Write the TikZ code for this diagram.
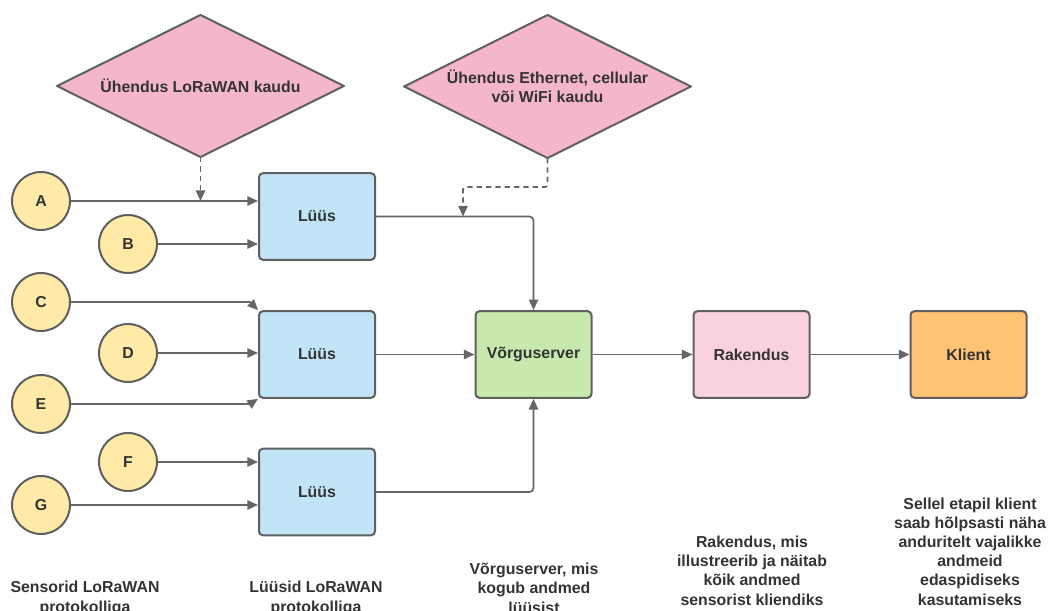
\documentclass[tikz,border=0pt]{standalone}
\usepackage{fontspec}
\setmainfont{Liberation Sans}
\usetikzlibrary{shapes.geometric,arrows.meta,calc}
\definecolor{strokec}{HTML}{5F5F5F}
\definecolor{linec}{HTML}{666666}
\definecolor{txtc}{HTML}{333333}
\definecolor{sensorc}{HTML}{FFEAA7}
\definecolor{gatec}{HTML}{C1E4F7}
\definecolor{netc}{HTML}{C7E9AD}
\definecolor{appc}{HTML}{FAD2DF}
\definecolor{clientc}{HTML}{FFC374}
\definecolor{diac}{HTML}{F4B6C9}
\newcommand{\lblfont}{\bfseries\fontsize{11.9}{14.4}\selectfont}
\begin{document}
\begin{tikzpicture}[x=0.75pt,y=-0.75pt,
  sensor/.style={circle, draw=strokec, line width=1.5pt, fill=sensorc, minimum size=43.5pt, inner sep=0pt, font=\lblfont, text=txtc},
  box/.style={rectangle, rounded corners=3pt, draw=strokec, line width=1.5pt, minimum width=87pt, minimum height=65pt, inner sep=0pt, font=\lblfont, text=txtc},
  diashape/.style={draw=strokec, line width=1.5pt, fill=diac, line join=round},
  diatext/.style={font=\lblfont, text=txtc, align=center, inner sep=0pt},
  note/.style={align=center, font=\lblfont, text=txtc, inner sep=0pt},
  arr/.style={draw=linec, line width=1.3pt, -{Triangle[length=8pt,width=7pt]}},
  darr/.style={arr, dash pattern=on 4pt off 3pt}]
\useasboundingbox (0,0) rectangle (1048,610);

% diamonds
\coordinate (d1c) at (200.5,86);
\coordinate (d1s) at (200.5,157);
\path[diashape] (57,86) -- (200.5,15) -- (344,86) -- (d1s) -- cycle;
\node[diatext] (d1) at (d1c) {Ühendus LoRaWAN kaudu};
\coordinate (d2c) at (547.5,86.5);
\coordinate (d2s) at (547.5,158);
\path[diashape] (404,86.5) -- (547.5,15) -- (691,86.5) -- (d2s) -- cycle;
\node[diatext] (d2) at (d2c) {Ühendus Ethernet, cellular\\või WiFi kaudu};

\node[sensor] (A) at (41,201) {A};
\node[sensor] (B) at (128,244) {B};
\node[sensor] (C) at (41,302) {C};
\node[sensor] (D) at (128,353) {D};
\node[sensor] (E) at (41,404) {E};
\node[sensor] (F) at (128,462) {F};
\node[sensor] (G) at (41,505) {G};

\node[box, fill=gatec] (g1) at (317,216.5) {Lüüs};
\node[box, fill=gatec] (g2) at (317,354.5) {Lüüs};
\node[box, fill=gatec] (g3) at (317,492) {Lüüs};
\node[box, fill=netc] (vs) at (533.5,354.5) {Võrguserver};
\node[box, fill=appc] (rak) at (751.5,354.5) {Rakendus};
\node[box, fill=clientc] (kl) at (968.5,354.5) {Klient};

\draw[arr] (A.east) -- (A.east -| g1.west);
\draw[arr] (B.east) -- (B.east -| g1.west);
\coordinate (cb) at (250,302);
\draw[arr] (C.east) -- (cb) -- (g2.north west);
\draw[arr] (D.east) -- (D.east -| g2.west);
\coordinate (eb) at (250,404);
\draw[arr] (E.east) -- (eb) -- (g2.south west);
\draw[arr] (F.east) -- (F.east -| g3.west);
\draw[arr] (G.east) -- (G.east -| g3.west);

\draw[arr, rounded corners=3pt] (g1.east) -| (vs.north);
\draw[arr] (g2) -- (vs);
\draw[arr, rounded corners=3pt] (g3.east) -| (vs.south);
\draw[arr] (vs) -- (rak);
\draw[arr] (rak) -- (kl);

\draw[darr] (d1s) -- (d1s |- A.east);
\coordinate (j0) at (547.5,187);
\path (g1.east) ++(87,0) coordinate (j1);
\draw[darr, rounded corners=2pt] (d2s) -- (j0) -| (j1);

\node[note, anchor=base] (n1) at (85,612) {Sensorid LoRaWAN\\protokolliga};
\node[note, anchor=base] (n2) at (316,612) {Lüüsid LoRaWAN\\protokolliga};
\node[note, anchor=base] (n3) at (534,613) {Võrguserver, mis\\kogub andmed\\lüüsist};
\node[note, anchor=base] (n4) at (752,605) {Rakendus, mis\\illustreerib ja näitab\\kõik andmed\\sensorist kliendiks};
\node[note, anchor=base] (n5) at (970,605) {Sellel etapil klient\\saab hõlpsasti näha\\anduritelt vajalikke\\andmeid\\edaspidiseks\\kasutamiseks};
\end{tikzpicture}
\end{document}
